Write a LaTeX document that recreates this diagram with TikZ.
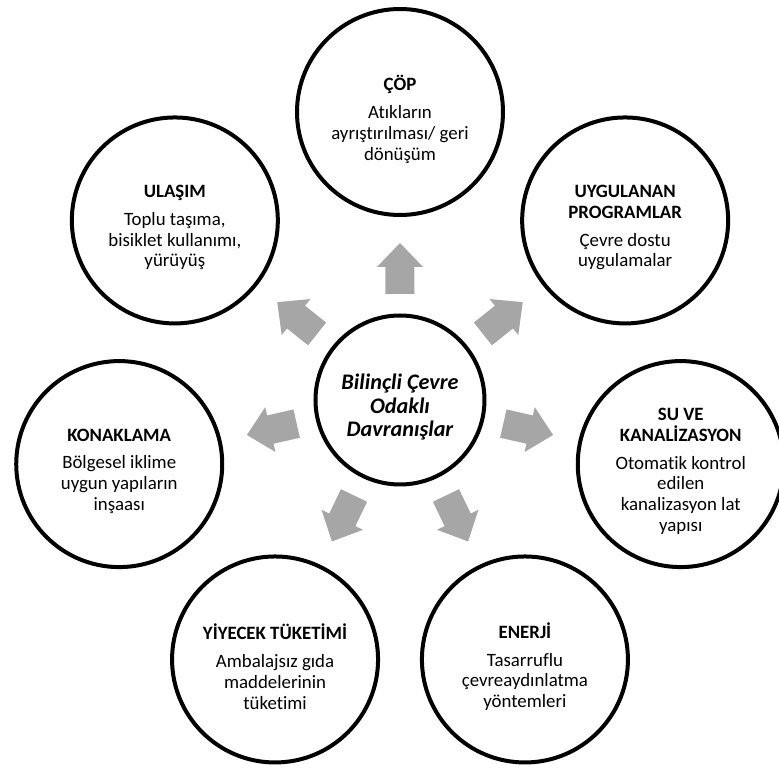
\documentclass[tikz,border=0pt]{standalone}
\usepackage{fontspec}
\setmainfont{Carlito}[Ligatures=NoCommon]
\usepackage{tikz}
\colorlet{okgri}{gray!70}
\tikzset{every node/.style={draw, circle, line width=0.1cm, minimum size=5.15cm, inner sep=0pt}}
\tikzset{yazi/.style={draw=none, rectangle, minimum size=0pt, yshift=-0.18cm, align=center, font=\fontsize{13.4}{14.8}\selectfont}}
\newcommand{\baslik}[1]{\textbf{#1}\\[5pt]}
\newcommand{\blokok}[1]{\fill[okgri, rotate=#1] (2.65,-0.3625) -- (3.325,-0.3625) -- (3.325,-0.575) -- (3.925,0) -- (3.325,0.575) -- (3.325,0.3625) -- (2.65,0.3625) -- cycle;}

\begin{document}
\begin{tikzpicture}
\useasboundingbox (-10,-9.225) rectangle (9.475,10);

\node[minimum size=4.225cm] (m) at (0,0) {};
\node (k1) at (90:7.2) {};
\node (k2) at (38.57:7.2) {};
\node (k3) at (-12.86:7.2) {};
\node (k4) at (-64.29:7.2) {};
\node (k5) at (-115.71:7.2) {};
\node (k6) at (192.86:7.2) {};
\node (k7) at (141.43:7.2) {};

% gri blok oklar
\foreach \a in {90, 38.57, -12.86, -64.29, -115.71, 192.86, 141.43}
  \blokok{\a};

\node[yazi, font=\fontsize{15.8}{16.8}\selectfont\bfseries\itshape] at (m.center) {Bilinçli Çevre\\Odaklı\\Davranışlar};
\node[yazi] at (k1.center) {\baslik{ÇÖP}Atıkların\\ayrıştırılması/ geri\\dönüşüm};
\node[yazi] at (k2.center) {\textbf{UYGULANAN}\\\baslik{PROGRAMLAR}Çevre dostu\\uygulamalar};
\node[yazi] at (k3.center) {\textbf{SU VE}\\\baslik{KANALİZASYON}Otomatik kontrol\\edilen\\kanalizasyon lat\\yapısı};
\node[yazi] at (k4.center) {\baslik{ENERJİ}Tasarruflu\\çevreaydınlatma\\yöntemleri};
\node[yazi] at (k5.center) {\baslik{YİYECEK TÜKETİMİ}Ambalajsız gıda\\maddelerinin\\tüketimi};
\node[yazi] at (k6.center) {\baslik{KONAKLAMA}Bölgesel iklime\\uygun yapıların\\inşaası};
\node[yazi] at (k7.center) {\baslik{ULAŞIM}Toplu taşıma,\\bisiklet kullanımı,\\yürüyüş};

\end{tikzpicture}
\end{document}
